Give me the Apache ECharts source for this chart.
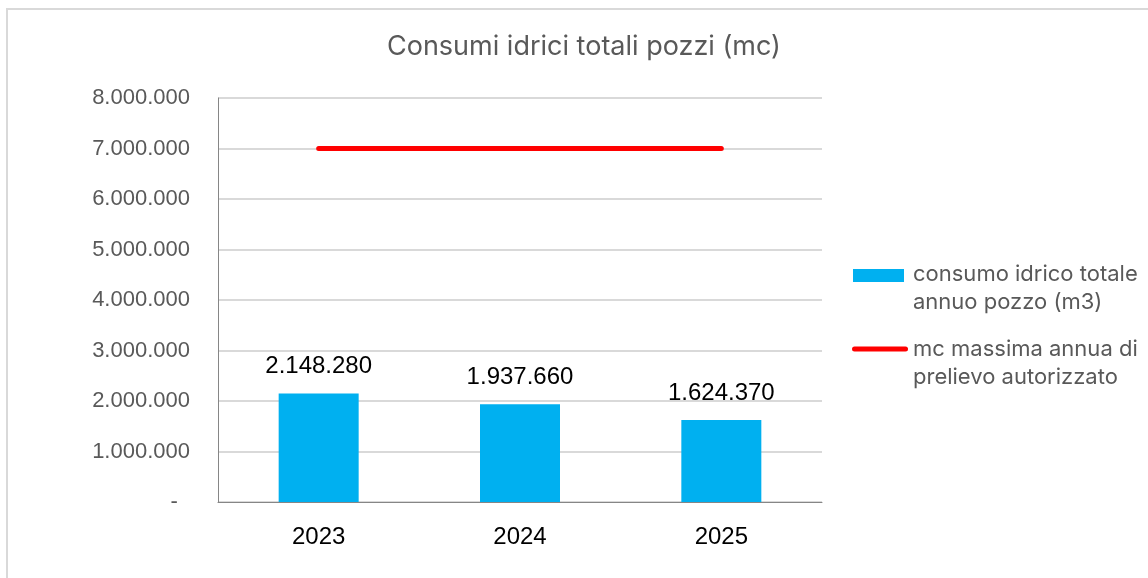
<!DOCTYPE html>
<html lang="it">
<head>
    <meta charset="UTF-8">
    <title>Consumi idrici totali pozzi</title>
    <script src="https://cdn.jsdelivr.net/npm/echarts@6/dist/echarts.min.js"></script>
    <style>
        html, body { margin: 0; padding: 0; background: #fff; overflow: hidden; }
        #main { width: 1148px; height: 578px; }
        #frame {
            position: absolute; left: 6px; top: 8px; width: 1200px; height: 620px;
            border: 2px solid #d9d9d9; pointer-events: none;
        }
    </style>
</head>
<body>
<div id="main"></div>
<div id="frame"></div>
<script>
    // dati
    var anni = ['2023', '2024', '2025'];
    var consumo = [2148280, 1937660, 1624370];
    var limite = [7000000, 7000000, 7000000];
    var nomeConsumo = 'consumo idrico totale annuo pozzo (m3)';
    var nomeLimite = 'mc massima annua di prelievo autorizzato';
    var testoLegenda = {};
    testoLegenda[nomeConsumo] = 'consumo idrico totale\nannuo pozzo (m3)';
    testoLegenda[nomeLimite] = 'mc massima annua di\nprelievo autorizzato';

    function formatIt(v) {
        if (v === 0) return '-  ';
        return String(v).replace(/\B(?=(\d{3})+(?!\d))/g, '.');
    }

    var myChart = echarts.init(document.getElementById('main'));
    var option = {
        animation: false,
        title: {
            text: 'Consumi idrici totali pozzi (mc)',
            left: 387,
            top: 33,
            padding: 0,
            textStyle: { fontFamily: 'Inter', fontSize: 27, fontWeight: 'normal', color: '#595959' }
        },
        legend: {
            orient: 'vertical',
            left: 852,
            top: 260,
            padding: 0,
            itemGap: 19,
            itemWidth: 56,
            itemHeight: 56,
            symbolKeepAspect: false,
            formatter: function (n) { return testoLegenda[n]; },
            textStyle: { fontFamily: 'Inter', fontSize: 22, lineHeight: 28, color: '#595959' },
            data: [
                { name: nomeConsumo, icon: 'path://M0,0 M56,56 M1,9 L52,9 L52,22 L1,22 Z' },
                { name: nomeLimite, icon: 'path://M0,0 M56,56 M2.5,11.5 L53.5,11.5 A2.5,2.5 0 0 1 53.5,16.5 L2.5,16.5 A2.5,2.5 0 0 1 2.5,11.5 Z' }
            ]
        },
        grid: { left: 218, right: 326, top: 98, bottom: 76 },
        xAxis: {
            type: 'category',
            data: anni,
            axisLine: { lineStyle: { color: '#868686', width: 1 } },
            axisTick: { show: false },
            axisLabel: { fontFamily: 'Liberation Sans', fontSize: 24, color: '#000', margin: 23 }
        },
        yAxis: {
            type: 'value',
            min: 0,
            max: 8000000,
            interval: 1000000,
            axisLine: { show: true, lineStyle: { color: '#868686', width: 1 } },
            axisTick: { show: false },
            splitLine: { lineStyle: { color: '#d9d9d9', width: 2 } },
            axisLabel: { fontFamily: 'Liberation Sans', fontSize: 22, color: '#595959', margin: 28, formatter: formatIt }
        },
        series: [
            {
                name: nomeConsumo,
                type: 'bar',
                data: consumo,
                barWidth: 80,
                itemStyle: { color: '#00b0f0' },
                label: {
                    show: true,
                    position: 'top',
                    distance: 15,
                    fontFamily: 'Liberation Sans',
                    fontSize: 24,
                    color: '#000',
                    formatter: function (p) { return formatIt(p.value); }
                }
            },
            {
                name: nomeLimite,
                type: 'line',
                data: limite,
                symbol: 'none',
                z: 5,
                itemStyle: { color: '#ff0000' },
                lineStyle: { color: '#ff0000', width: 5, cap: 'round' }
            }
        ]
    };
    myChart.setOption(option);
</script>
</body>
</html>
